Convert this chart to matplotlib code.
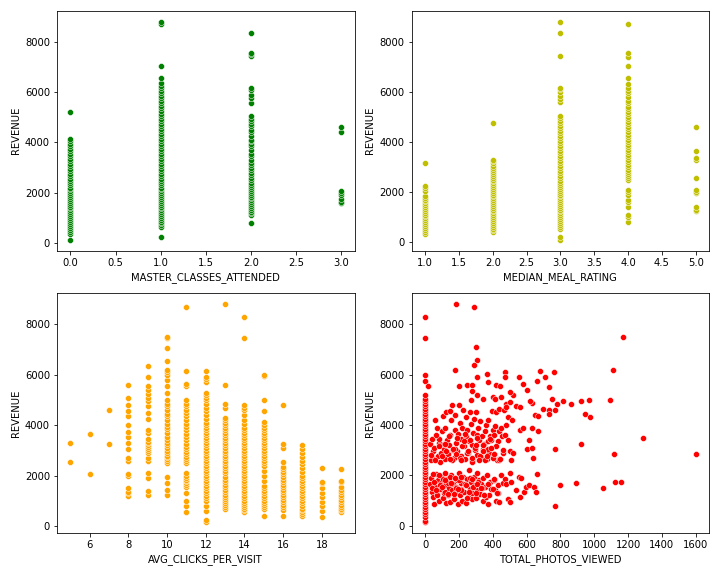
import matplotlib
matplotlib.use('Agg')
import matplotlib.pyplot as plt
import seaborn as sns
import numpy as np

# REVENUE values per category
master_classes = {
    0: [130, 380, 450, 520, 600, 680, 760, 850, 930, 1000, 1080, 1150, 1230, 1300, 1380, 1450,
        1530, 1600, 1680, 1750, 1830, 1900, 1980, 2050, 2130, 2200, 2300, 2380, 2450, 2550, 2650,
        2750, 2850, 2950, 3050, 3150, 3250, 3350, 3450, 3550, 3650, 3750, 3850, 3930, 4050, 4150, 5200],
    1: [230, 620, 700, 780, 850, 930, 1000, 1080, 1150, 1230, 1300, 1380, 1450, 1530, 1600, 1680,
        1750, 1830, 1900, 1980, 2050, 2130, 2200, 2300, 2380, 2450, 2550, 2650, 2750, 2850, 2950,
        3050, 3150, 3250, 3350, 3450, 3550, 3650, 3750, 3850, 3950, 4050, 4150, 4250, 4350, 4450,
        4550, 4650, 4750, 4850, 4950, 5050, 5150, 5250, 5350, 5450, 5550, 5650, 5750, 5850, 5950,
        6050, 6150, 6250, 6350, 6550, 7050, 8700, 8800],
    2: [800, 1100, 1180, 1250, 1330, 1400, 1480, 1550, 1630, 1700, 1780, 1850, 1930, 2000, 2080,
        2150, 2230, 2300, 2400, 2500, 2600, 2700, 2800, 2900, 3000, 3100, 3200, 3300, 3450, 3550,
        3700, 3850, 3950, 4050, 4100, 4250, 4400, 4500, 4650, 4750, 4850, 4950, 5050, 5550, 5750,
        5900, 6100, 6150, 7450, 7500, 7550, 8350],
    3: [1580, 1650, 1750, 1900, 2000, 2050, 4400, 4600],
}

meal_rating = {
    1: [350, 420, 500, 580, 650, 730, 800, 880, 950, 1030, 1100, 1180, 1250, 1330, 1400, 1480,
        1550, 1630, 1700, 1780, 1850, 2050, 2150, 2250, 3150],
    2: [400, 480, 550, 630, 700, 780, 850, 930, 1000, 1080, 1150, 1230, 1300, 1380, 1450, 1530,
        1600, 1680, 1750, 1830, 1900, 1980, 2050, 2130, 2200, 2280, 2350, 2430, 2500, 2580, 2650,
        2730, 2800, 2880, 2950, 3050, 3150, 3250, 3300, 4750],
    3: [100, 200, 550, 630, 700, 780, 850, 930, 1000, 1080, 1150, 1230, 1300, 1380, 1450, 1530,
        1600, 1680, 1750, 1830, 1900, 1980, 2050, 2130, 2200, 2300, 2380, 2450, 2550, 2650, 2750,
        2850, 2950, 3050, 3150, 3250, 3350, 3450, 3550, 3650, 3750, 3850, 3950, 4050, 4150, 4250,
        4350, 4450, 4550, 4650, 4750, 4850, 4950, 5050, 5600, 5700, 5850, 6000, 6100, 6150, 7450,
        8350, 8800],
    4: [800, 1000, 1100, 1400, 1600, 1700, 1900, 2000, 2100, 2500, 2580, 2650, 2730, 2800, 2900,
        3000, 3100, 3200, 3300, 3400, 3500, 3600, 3700, 3800, 3900, 4000, 4100, 4200, 4300, 4400,
        4500, 4600, 4700, 4800, 4900, 5000, 5100, 5200, 5300, 5400, 5550, 5650, 5800, 5950, 6050,
        6150, 6300, 6550, 7050, 7400, 7550, 8700],
    5: [1250, 1300, 1400, 1950, 2000, 2100, 2550, 3300, 3350, 3650, 4600],
}

avg_clicks = {
    5: [2550, 3300],
    6: [2050, 3650],
    7: [3250, 4600],
    8: [1200, 1300, 1350, 1500, 2000, 2050, 2600, 2700, 3050, 3300, 3550, 3750, 4000, 4350, 4550,
        4800, 5100, 5600],
    9: [1250, 1400, 1900, 2100, 2600, 2700, 2900, 2980, 3050, 3130, 3200, 3280, 3350, 3450, 3700,
        3800, 4250, 4500, 4750, 4950, 5100, 5250, 5400, 5550, 5900, 6350],
    10: [1250, 1450, 1700, 1950, 2500, 2580, 2650, 2730, 2800, 2900, 3000, 3100, 3200, 3300, 3400,
         3550, 3700, 3850, 3950, 4050, 4200, 4350, 4450, 4600, 4750, 4850, 5000, 5300, 5550, 5800,
         6000, 6100, 6200, 6550, 7050, 7450, 7500],
    11: [550, 800, 1000, 1300, 1550, 1630, 1700, 1780, 1850, 1930, 2000, 2100, 2500, 2580, 2650,
         2750, 2850, 2950, 3050, 3150, 3250, 3400, 3550, 3650, 3800, 3950, 4050, 4200, 4350, 4500,
         4600, 4750, 4850, 5000, 5550, 5650, 6150, 8700],
    12: [150, 250, 600, 800, 1000, 1100, 1200, 1300, 1400, 1500, 1600, 1700, 1800, 1900, 2000,
         2100, 2200, 2300, 2400, 2500, 2600, 2700, 2800, 2900, 3000, 3100, 3200, 3300, 3400, 3500,
         3600, 3700, 3800, 3900, 4000, 4100, 4250, 4400, 4550, 4700, 4850, 5000, 5100, 5200, 5300,
         5700, 5850, 5900, 6150],
    13: [700, 780, 850, 930, 1000, 1080, 1150, 1250, 1350, 1450, 1550, 1650, 1750, 1850, 1950,
         2100, 2200, 2300, 2400, 2500, 2600, 2700, 2800, 2900, 3000, 3100, 3200, 3300, 3400, 3500,
         3600, 3700, 3800, 3900, 4000, 4100, 4200, 4300, 4700, 4850, 5600, 8800],
    14: [550, 630, 700, 780, 850, 930, 1000, 1100, 1200, 1300, 1400, 1500, 1600, 1700, 1800, 1900,
         2000, 2100, 2200, 2300, 2400, 2500, 2600, 2700, 2800, 2900, 3000, 3100, 3200, 3300, 3400,
         3500, 3600, 3700, 3800, 3900, 4050, 4200, 4400, 4600, 4700, 4800, 7450, 8300],
    15: [400, 700, 780, 850, 930, 1000, 1100, 1200, 1300, 1400, 1500, 1600, 1800, 2000, 2200,
         2400, 2500, 2600, 2700, 2800, 2900, 3000, 3100, 3200, 3300, 3400, 3500, 3600, 3700, 3800,
         3900, 4000, 4150, 4550, 5000, 5950, 6000],
    16: [400, 650, 750, 850, 950, 1050, 1150, 1250, 1350, 1450, 1550, 1650, 1750, 1850, 1950,
         2050, 2150, 2250, 2350, 2550, 3100, 3250, 4800],
    17: [400, 480, 550, 630, 700, 800, 900, 1000, 1100, 1200, 1300, 1400, 1500, 1600, 1700, 1800,
         1900, 2000, 2150, 2300, 2450, 2600, 2750, 2900, 3050, 3200],
    18: [350, 600, 800, 950, 1150, 1300, 1500, 1700, 1750, 2300],
    19: [550, 630, 700, 780, 850, 950, 1050, 1150, 1250, 1350, 1450, 1550, 1750, 1800, 2250],
}

# TOTAL_PHOTOS_VIEWED == 0 strip
photos_zero_rev = [130, 200, 350, 450, 550, 650, 750, 850, 950, 1050, 1150, 1250, 1350, 1450,
                   1550, 1650, 1750, 1850, 1950, 2050, 2150, 2250, 2350, 2450, 2550, 2650, 2750,
                   2850, 2950, 3050, 3150, 3250, 3350, 3450, 3550, 3650, 3750, 3850, 3950, 4050,
                   4150, 4250, 4350, 4450, 4550, 4650, 4750, 4850, 4950, 5050, 5200, 5750, 6000,
                   7450, 8300]

photos_x = [185, 290, 1170, 300, 305, 290, 175, 1110, 365, 470, 680, 760, 310, 475, 555, 710,
            200, 250, 280, 370, 420, 445, 580, 600, 660, 735, 15, 275, 305, 520, 505, 270, 345,
            400, 415, 450, 480, 505, 540, 560, 630, 750, 780, 815, 860, 920, 970, 1095, 945, 975,
            650, 670, 700, 730, 770, 730, 490, 515, 395, 420, 440, 465, 480, 620,
            30, 40, 45, 55, 60, 70, 75, 80, 85, 95, 100, 105, 110, 115, 120, 125, 130, 135, 140,
            145, 150, 155, 160, 165, 170, 175, 180, 185, 190, 195, 200, 205, 210, 215, 220, 225,
            230, 235, 240, 245, 250, 255, 260, 265, 270, 275, 280, 285, 290, 295, 300, 305, 310,
            315, 320, 325, 330, 335, 340, 345, 350, 355, 360, 365, 370, 375, 380, 385, 390, 400,
            405, 410, 415, 425, 430, 435, 440, 450, 455, 460, 470, 480, 490, 500, 510, 520, 560,
            580, 600, 615, 630, 640, 635, 665, 770, 920, 1290, 1120, 1600,
            35, 50, 65, 90, 110, 125, 140, 160, 175, 190, 205, 220, 235, 250, 265, 280, 295, 310,
            325, 340, 355, 370, 385, 400, 420, 440, 460, 35, 60, 80, 100, 120, 145, 165, 185, 210,
            230, 255, 275, 300, 320, 345, 365, 390, 410, 445,
            30, 35, 40, 45, 55, 60, 65, 70, 75, 85, 90, 95, 100, 105, 110, 115, 120, 125, 130,
            135, 140, 145, 150, 155, 160, 165, 170, 175, 180, 185, 190, 195, 200, 205, 210, 215,
            220, 225, 230, 240, 245, 250, 255, 260, 265, 270, 275, 280, 290, 295, 300, 305, 310,
            320, 325, 330, 340, 345, 355, 360, 365, 375, 380, 385, 395, 405, 415, 420, 430, 440,
            450, 460, 470, 480, 490, 500, 505, 510, 540, 555, 560, 570, 585, 595, 615, 645, 655,
            660, 770, 800, 895, 1055, 1125, 1160,
            40, 55, 70, 90, 105, 120, 135, 150, 170, 185, 200, 215, 235, 250, 265, 285, 300, 315,
            335, 350, 370, 390, 410, 430, 45, 65, 80, 100, 115, 135, 155, 175, 195, 215, 240, 260,
            280, 310, 330, 350, 375, 400, 425]
photos_rev = [8800, 8700, 7500, 7100, 6580, 6380, 6180, 6200, 6030, 6100, 6150, 6100, 5900, 5900,
              5900, 5900, 5550, 5580, 5580, 5700, 5600, 5550, 5620, 5400, 5750, 5500, 5550, 5350,
              5200, 5200, 5300, 5000, 5050, 5100, 5050, 5100, 4850, 4900, 4750, 4700, 4870, 5050,
              4850, 4950, 4850, 4950, 4980, 5000, 4420, 4300, 4400, 4350, 4650, 4600, 4600, 4450,
              4300, 4200, 4550, 4500, 4650, 4600, 4700, 4950,
              3250, 3450, 2950, 2650, 4200, 3900, 2750, 3300, 3450, 2900, 3750, 4350, 3050, 2650,
              3900, 4500, 3400, 2850, 3200, 4550, 3600, 4200, 4800, 3000, 2700, 3800, 4400, 3300,
              2950, 3650, 4800, 4100, 3450, 2750, 3900, 4600, 3150, 2650, 3550, 4300, 3800, 2900,
              3350, 4500, 4050, 3200, 2600, 3700, 4250, 3000, 4500, 3600, 2800, 3900, 3400, 4150,
              2700, 3550, 3050, 2950, 3250, 3750, 4000, 2650, 3350, 4200, 2900, 3550, 3400, 3800,
              2850, 3600, 3950, 2600, 3350, 3750, 2650, 3900, 3550, 2900, 3600, 4000, 3400, 2950,
              2600, 2900, 3800, 3900, 3050, 3400, 3100, 2700, 3900, 3750, 3050, 3250, 3500, 2850,
              2850,
              2600, 3100, 3600, 2550, 3250, 2950, 3550, 2600, 3050, 3500, 2700, 3150, 3650, 2900,
              3400, 2550, 3100, 3500, 2750, 3200, 2600, 3050, 3450, 2700, 3150, 2600, 3000, 2800,
              2600, 3150, 2750, 3250, 2650, 3050, 2850, 2600, 3350, 2950, 2700, 3200, 2600, 2950,
              2750, 3100, 2850, 2650,
              1650, 1900, 1350, 1150, 850, 1550, 2050, 1250, 1800, 1000, 1450, 1700, 1950, 1100,
              1300, 1600, 2100, 900, 1850, 1200, 1500, 1750, 950, 2000, 1400, 1650, 1050, 1900,
              1300, 1550, 1800, 850, 2100, 1200, 1450, 1700, 1000, 1950, 1350, 1600, 900, 1850,
              1150, 2200, 1450, 1750, 1050, 1300, 1950, 1600, 1100, 2100, 1400, 1800, 1250, 1650,
              1000, 1900, 1550, 1150, 2000, 850, 1200, 1750, 1450, 1800, 1400, 1000, 1600, 950,
              2000, 1700, 1850, 1650, 1050, 950, 2100, 1750, 1400, 1950, 1150, 1900, 1350, 1550,
              1600, 1550, 1350, 2050, 800, 1600, 1700, 1480, 1750, 1750,
              1500, 1750, 1200, 1600, 1850, 1350, 1700, 1950, 1250, 1500, 1800, 1400, 1650, 1100,
              1900, 1550, 1300, 1750, 1500, 1200, 1650, 1450, 1850, 1300, 2050, 1400, 2000, 1550,
              1800, 1250, 1700, 1900, 1450, 1950, 1600, 1350, 1850, 1650, 1500, 1200, 1650, 1450,
              1300]


def strip_xy(groups):
    xs, ys = [], []
    for k, vals in groups.items():
        xs += [k] * len(vals)
        ys += vals
    return xs, ys


fig, axes = plt.subplots(2, 2, figsize=(10, 8), dpi=72)

x, y = strip_xy(master_classes)
sns.scatterplot(x=x, y=y, color='g', ax=axes[0, 0])
axes[0, 0].set_xlabel('MASTER_CLASSES_ATTENDED')
axes[0, 0].set_ylabel('REVENUE')

x, y = strip_xy(meal_rating)
x = [float(v) for v in x]
sns.scatterplot(x=x, y=y, color='y', ax=axes[0, 1])
axes[0, 1].set_xlabel('MEDIAN_MEAL_RATING')
axes[0, 1].set_ylabel('REVENUE')

x, y = strip_xy(avg_clicks)
sns.scatterplot(x=x, y=y, color='orange', ax=axes[1, 0])
axes[1, 0].set_xlabel('AVG_CLICKS_PER_VISIT')
axes[1, 0].set_ylabel('REVENUE')

x = [0] * len(photos_zero_rev) + photos_x
y = photos_zero_rev + photos_rev
sns.scatterplot(x=x, y=y, color='r', ax=axes[1, 1])
axes[1, 1].set_xlabel('TOTAL_PHOTOS_VIEWED')
axes[1, 1].set_ylabel('REVENUE')

plt.tight_layout()
plt.savefig('out.png')
